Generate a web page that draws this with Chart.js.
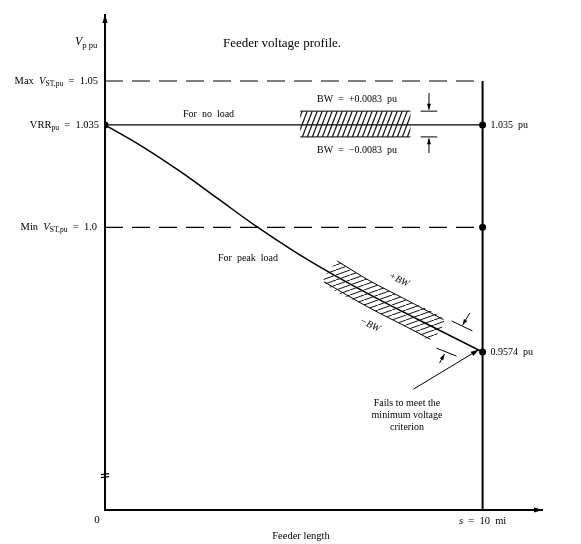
<!DOCTYPE html>
<html>
<head>
<meta charset="utf-8">
<script src="https://cdn.jsdelivr.net/npm/chart.js@4.4.0/dist/chart.umd.min.js"></script>
<style>
  html, body { margin: 0; padding: 0; background: #fff; }
</style>
</head>
<body>
<canvas id="myChart" width="581" height="544"></canvas>
<script>
// feeder data (per unit voltage vs miles)
const feederMiles = [0, 1, 2, 3, 4, 5, 6, 7, 8, 9, 10];
const peakLoadPu = [1.035, 1.0275, 1.0190, 1.0097, 1.0004, 0.9919, 0.9842, 0.9771, 0.9704, 0.9639, 0.9574];
const noLoadMiles = [0, 10];
const noLoadPu = [1.035, 1.035];
const maxVstPu = 1.05;
const minVstPu = 1.0;
const feederEnd = 10;

// bandwidth hatch (drawn width, schematic)
const noLoadBandMiles = [5.17, 8.09];
const noLoadBandPu = [1.0397, 1.0309];
const peakBandTopMiles = [6.15, 7, 8, 8.97];
const peakBandTopPu = [0.9885, 0.9818, 0.9751, 0.9684];
const peakBandBotMiles = [5.8, 7, 8, 8.62];
const peakBandBotPu = [0.9814, 0.9725, 0.9659, 0.9617];

const xRange = [0, 11.6];
const yRange = [0.9034, 1.0729];

const SERIF = '"Liberation Serif", "DejaVu Serif", serif';

const pts = (xs, ys) => xs.map((x, i) => ({ x: x, y: ys[i] }));

function hatch(w, h, lw) {
  const c = document.createElement('canvas');
  c.width = w; c.height = h;
  const g = c.getContext('2d');
  g.strokeStyle = '#111';
  g.lineWidth = lw;
  g.beginPath();
  g.moveTo(0, h); g.lineTo(w, 0);
  g.moveTo(-w, h); g.lineTo(0, 0);
  g.moveTo(w, h); g.lineTo(2 * w, 0);
  g.stroke();
  return g.createPattern(c, 'repeat');
}

const noLoadBand = [
  { x: noLoadBandMiles[0], y: noLoadBandPu[0] }, { x: noLoadBandMiles[1], y: noLoadBandPu[0] },
  { x: noLoadBandMiles[1], y: noLoadBandPu[1] }, { x: noLoadBandMiles[0], y: noLoadBandPu[1] },
  { x: noLoadBandMiles[0], y: noLoadBandPu[0] }
];
const peakBand = pts(peakBandTopMiles, peakBandTopPu)
  .concat(pts(peakBandBotMiles, peakBandBotPu).reverse());
peakBand.push(peakBand[0]);

function richText(ctx, parts, x, y, align, size) {
  const fontOf = p => (p.it ? 'italic ' : '') + (p.sub ? size * 0.72 : size) + 'px ' + SERIF;
  let w = 0;
  parts.forEach(p => { ctx.font = fontOf(p); w += ctx.measureText(p.t).width; });
  let cx = align === 'right' ? x - w : align === 'center' ? x - w / 2 : x;
  ctx.textAlign = 'left';
  ctx.textBaseline = 'middle';
  parts.forEach(p => {
    ctx.font = fontOf(p);
    ctx.fillText(p.t, cx, y + (p.sub ? size * 0.3 : 0));
    cx += ctx.measureText(p.t).width;
  });
}

function arrow(ctx, x1, y1, x2, y2, len, half) {
  ctx.beginPath(); ctx.moveTo(x1, y1); ctx.lineTo(x2, y2); ctx.stroke();
  const a = Math.atan2(y2 - y1, x2 - x1);
  ctx.beginPath();
  ctx.moveTo(x2, y2);
  ctx.lineTo(x2 - len * Math.cos(a) + half * Math.sin(a), y2 - len * Math.sin(a) - half * Math.cos(a));
  ctx.lineTo(x2 - len * Math.cos(a) - half * Math.sin(a), y2 - len * Math.sin(a) + half * Math.cos(a));
  ctx.closePath(); ctx.fill();
}

// annotation marks, in data units
const bwArrowsNoLoad = { x0: 8.36, x1: 8.8, xa: 8.58, top: [1.0459, 1.0402], bot: [1.0254, 1.0304] };
const peakTicks = [
  [9.18, 0.968, 9.73, 0.9646], [8.78, 0.9587, 9.31, 0.956]
];
const peakArrows = [
  [9.66, 0.9707, 9.47, 0.9666], [8.86, 0.9536, 8.99, 0.9567]
];
const failArrow = [8.17, 0.9447, 9.9, 0.9582];

const axesPlugin = {
  id: 'axesPlugin',
  beforeDatasetsDraw(chart) {
    const ctx = chart.ctx;
    const xs = chart.scales.x, ys = chart.scales.y;
    const X = v => xs.getPixelForValue(v), Y = v => ys.getPixelForValue(v);
    ctx.save();
    ctx.strokeStyle = '#000'; ctx.fillStyle = '#000';
    ctx.lineWidth = 2;
    arrow(ctx, X(0), Y(yRange[0]) + 1, X(0), Y(yRange[1]), 9, 2.5);
    arrow(ctx, X(0) - 1, Y(yRange[0]), X(xRange[1]), Y(yRange[0]), 9, 2.5);
    // feeder end line
    ctx.beginPath(); ctx.moveTo(X(feederEnd), Y(maxVstPu)); ctx.lineTo(X(feederEnd), Y(yRange[0])); ctx.stroke();
    // axis break mark
    ctx.lineWidth = 1.2;
    const yb = Y(0.9150);
    ctx.beginPath();
    ctx.moveTo(X(0) - 4, yb - 1.5); ctx.lineTo(X(0) + 4, yb - 2.5);
    ctx.moveTo(X(0) - 4, yb + 1.5); ctx.lineTo(X(0) + 4, yb + 0.5);
    ctx.stroke();
    ctx.restore();
  }
};

const labelsPlugin = {
  id: 'labelsPlugin',
  afterDraw(chart) {
    const ctx = chart.ctx;
    const xs = chart.scales.x, ys = chart.scales.y;
    const X = v => xs.getPixelForValue(v), Y = v => ys.getPixelForValue(v);
    ctx.save();
    ctx.strokeStyle = '#000'; ctx.fillStyle = '#000';

    // BW brackets on no-load line
    ctx.lineWidth = 1;
    const b = bwArrowsNoLoad;
    ctx.beginPath();
    ctx.moveTo(X(b.x0), Y(noLoadBandPu[0])); ctx.lineTo(X(b.x1), Y(noLoadBandPu[0]));
    ctx.moveTo(X(b.x0), Y(noLoadBandPu[1])); ctx.lineTo(X(b.x1), Y(noLoadBandPu[1]));
    ctx.stroke();
    arrow(ctx, X(b.xa), Y(b.top[0]), X(b.xa), Y(b.top[1]), 6, 2);
    arrow(ctx, X(b.xa), Y(b.bot[0]), X(b.xa), Y(b.bot[1]), 6, 2);

    // BW brackets on peak curve
    peakTicks.forEach(t => {
      ctx.beginPath(); ctx.moveTo(X(t[0]), Y(t[1])); ctx.lineTo(X(t[2]), Y(t[3])); ctx.stroke();
    });
    peakArrows.forEach(t => arrow(ctx, X(t[0]), Y(t[1]), X(t[2]), Y(t[3]), 6, 2));
    arrow(ctx, X(failArrow[0]), Y(failArrow[1]), X(failArrow[2]), Y(failArrow[3]), 8, 2.5);

    // texts
    const fs = 10.5;
    richText(ctx, [{ t: 'V', it: true }, { t: 'p pu', sub: true }], X(0) - 30, 42, 'left', 12);
    richText(ctx, [{ t: 'Feeder voltage profile.' }], 223, 44, 'left', 13);
    richText(ctx, [{ t: 'Max  ' }, { t: 'V', it: true }, { t: 'ST,pu', sub: true }, { t: '  =  1.05' }], X(0) - 7, Y(maxVstPu), 'right', fs);
    richText(ctx, [{ t: 'VRR' }, { t: 'pu', sub: true }, { t: '  =  1.035' }], X(0) - 6, Y(noLoadPu[0]), 'right', fs);
    richText(ctx, [{ t: 'Min  ' }, { t: 'V', it: true }, { t: 'ST,pu', sub: true }, { t: '  =  1.0' }], X(0) - 8, Y(minVstPu), 'right', fs);
    richText(ctx, [{ t: '1.035  pu' }], X(feederEnd) + 8, Y(noLoadPu[1]), 'left', 10);
    richText(ctx, [{ t: '0.9574  pu' }], X(feederEnd) + 8, Y(peakLoadPu[peakLoadPu.length - 1]), 'left', 10);
    richText(ctx, [{ t: 'For  no  load' }], 183, Y(noLoadPu[0]) - 11, 'left', 10);
    richText(ctx, [{ t: 'For  peak  load' }], 218, 258, 'left', 10);
    richText(ctx, [{ t: 'BW  =  +0.0083  pu' }], 317, 99, 'left', 10);
    richText(ctx, [{ t: 'BW  =  \u22120.0083  pu' }], 317, 150, 'left', 10);
    richText(ctx, [{ t: '0' }], X(0) - 8, Y(yRange[0]) + 10, 'center', 11);
    richText(ctx, [{ t: 's', it: true }, { t: '  =  10  mi' }], X(feederEnd), Y(yRange[0]) + 11, 'center', 10.5);
    richText(ctx, [{ t: 'Feeder length' }], 301, 536, 'center', 10.5);
    ['Fails to meet the', 'minimum voltage', 'criterion'].forEach((s, i) =>
      richText(ctx, [{ t: s }], 407, 403 + i * 12, 'center', 10));

    // rotated band labels
    [['+BW', 399, 280], ['\u2212BW', 370, 325]].forEach(l => {
      ctx.save();
      ctx.translate(l[1], l[2]);
      ctx.rotate(0.45);
      richText(ctx, [{ t: l[0], it: true }], 0, 0, 'center', 10);
      ctx.restore();
    });
    ctx.restore();
  }
};

const ctx = document.getElementById('myChart').getContext('2d');
new Chart(ctx, {
  type: 'scatter',
  data: {
    datasets: [
      {
        label: 'no load band',
        data: noLoadBand,
        showLine: true,
        fill: 'shape',
        backgroundColor: hatch(5, 13, 1.2),
        borderWidth: 0,
        pointRadius: 0
      },
      {
        label: 'no load band edges',
        data: [
          { x: noLoadBandMiles[0], y: noLoadBandPu[0] }, { x: noLoadBandMiles[1], y: noLoadBandPu[0] },
          { x: NaN, y: NaN },
          { x: noLoadBandMiles[0], y: noLoadBandPu[1] }, { x: noLoadBandMiles[1], y: noLoadBandPu[1] }
        ],
        showLine: true,
        spanGaps: false,
        borderColor: '#000',
        borderWidth: 1,
        pointRadius: 0
      },
      {
        label: 'peak band',
        data: peakBand,
        showLine: true,
        fill: 'shape',
        backgroundColor: hatch(14, 5, 1),
        borderWidth: 0,
        pointRadius: 0,
        tension: 0.3
      },
      {
        label: 'peak band top',
        data: pts(peakBandTopMiles, peakBandTopPu),
        showLine: true,
        borderColor: '#000',
        borderWidth: 1,
        pointRadius: 0,
        tension: 0.3
      },
      {
        label: 'peak band bottom',
        data: pts(peakBandBotMiles, peakBandBotPu),
        showLine: true,
        borderColor: '#000',
        borderWidth: 1,
        pointRadius: 0,
        tension: 0.3
      },
      {
        label: 'Max VST',
        data: [{ x: 0, y: maxVstPu }, { x: feederEnd, y: maxVstPu }],
        showLine: true,
        borderColor: '#000',
        borderWidth: 1.2,
        borderDash: [18, 9],
        pointRadius: 0
      },
      {
        label: 'Min VST',
        data: [{ x: 0, y: minVstPu }, { x: feederEnd, y: minVstPu }],
        showLine: true,
        borderColor: '#000',
        borderWidth: 1.2,
        borderDash: [18, 9],
        pointRadius: [0, 3.5],
        pointBackgroundColor: '#000',
        pointBorderWidth: 0
      },
      {
        label: 'For no load',
        data: pts(noLoadMiles, noLoadPu),
        showLine: true,
        borderColor: '#000',
        borderWidth: 1.3,
        pointRadius: 3.5,
        pointBackgroundColor: '#000',
        pointBorderWidth: 0
      },
      {
        label: 'For peak load',
        data: pts(feederMiles, peakLoadPu),
        showLine: true,
        borderColor: '#000',
        borderWidth: 1.5,
        tension: 0.4,
        pointRadius: feederMiles.map((m, i) => i === feederMiles.length - 1 ? 3.5 : 0),
        pointBackgroundColor: '#000',
        pointBorderWidth: 0
      }
    ]
  },
  options: {
    responsive: false,
    animation: false,
    devicePixelRatio: 1,
    layout: { padding: { left: 105, right: 38, top: 14, bottom: 34 } },
    plugins: { legend: { display: false }, tooltip: { enabled: false } },
    scales: {
      x: { type: 'linear', min: xRange[0], max: xRange[1], display: false },
      y: { type: 'linear', min: yRange[0], max: yRange[1], display: false }
    }
  },
  plugins: [axesPlugin, labelsPlugin]
});
</script>
</body>
</html>
